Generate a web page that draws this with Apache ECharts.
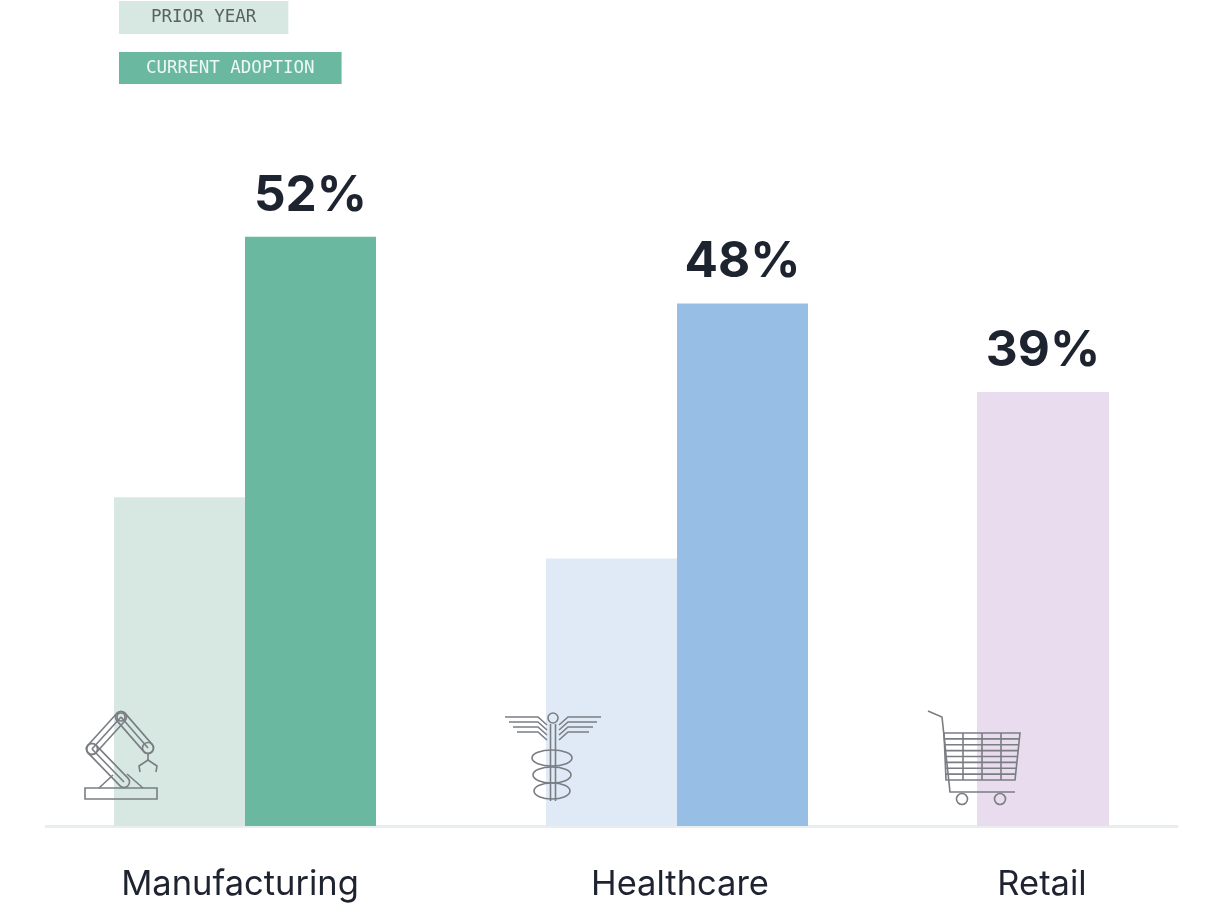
<!DOCTYPE html>
<html>
<head>
<meta charset="utf-8">
<title>Adoption by industry</title>
<script src="https://cdn.jsdelivr.net/npm/echarts@6/dist/echarts.min.js"></script>
<style>
  html, body { margin: 0; padding: 0; background: #fff; }
  #chart { width: 1221px; height: 908px; }
</style>
</head>
<body>
<div id="chart"></div>
<script>
// data
var categories = ['Manufacturing', 'Healthcare', 'Retail'];
var priorYear = [29.0, 23.6, null];
var currentAdoption = [52.0, 46.1, 38.3];
var currentLabels = ['52%', '48%', '39%'];
var priorColors = ['#d7e8e2', '#e0eaf7', '#ece3f1'];
var currentColors = ['#6bb8a0', '#97bfe5', '#e8dcee'];

// one small grid per industry, they are not evenly spaced
var gridLeft = [114, 546, 977];
var gridWidth = [262, 262, 132];
var labelPad = [[0, 10, 0, 0], [0, 0, 0, 6], [0, 2, 0, 0]];
var gridTop = 146, gridBottom = 82;

var ink = '#1e2330';
var iconInk = '#7a7d82';

var grids = [], xAxes = [], yAxes = [], series = [];

categories.forEach(function (cat, i) {
    grids.push({left: gridLeft[i], width: gridWidth[i], top: gridTop, bottom: gridBottom, z: 2});
    xAxes.push({
        type: 'category',
        gridIndex: i,
        data: [cat],
        axisLine: {show: false},
        axisTick: {show: false},
        axisLabel: {
            margin: 41,
            padding: labelPad[i],
            fontSize: 34.5,
            color: ink,
            fontFamily: 'Inter, "Noto Sans", sans-serif'
        }
    });
    yAxes.push({type: 'value', gridIndex: i, min: 0, max: 60, show: false});

    if (priorYear[i] != null) {
        series.push({
            name: 'PRIOR YEAR',
            type: 'bar',
            xAxisIndex: i,
            yAxisIndex: i,
            barGap: '0%',
            barCategoryGap: '0%',
            itemStyle: {color: priorColors[i]},
            data: [priorYear[i]]
        });
    }
    series.push({
        name: 'CURRENT ADOPTION',
        type: 'bar',
        xAxisIndex: i,
        yAxisIndex: i,
        barGap: '0%',
        barCategoryGap: '0%',
        itemStyle: {color: currentColors[i]},
        label: {
            show: true,
            position: 'top',
            distance: 16,
            formatter: function () { return currentLabels[i]; },
            fontSize: 49.5,
            fontWeight: 'bold',
            color: ink,
            fontFamily: 'Inter, "Noto Sans", sans-serif'
        },
        data: [currentAdoption[i]]
    });
});

// long baseline under everything
grids.push({left: 46, right: 44, top: gridTop, bottom: gridBottom, z: 0});
xAxes.push({
    type: 'category',
    gridIndex: 3,
    data: [''],
    axisLine: {lineStyle: {color: '#e8eded', width: 3}},
    axisTick: {show: false},
    axisLabel: {show: false}
});
yAxes.push({type: 'value', gridIndex: 3, show: false});

// icon helpers
function ln(pts) {
    return {type: 'polyline', z: 100, shape: {points: pts},
        style: {fill: null, stroke: iconInk, lineWidth: 1.6}};
}
function circ(cx, cy, r) {
    return {type: 'circle', z: 100, shape: {cx: cx, cy: cy, r: r},
        style: {fill: null, stroke: iconInk, lineWidth: 1.6}};
}
function ell(cx, cy, rx, ry) {
    return {type: 'ellipse', z: 100, shape: {cx: cx, cy: cy, rx: rx, ry: ry},
        style: {fill: null, stroke: iconInk, lineWidth: 1.6}};
}
function capsule(a, b, t) {
    var dx = b[0] - a[0], dy = b[1] - a[1];
    var len = Math.sqrt(dx * dx + dy * dy);
    return {type: 'rect', z: 100,
        x: (a[0] + b[0]) / 2, y: (a[1] + b[1]) / 2,
        rotation: -Math.atan2(dy, dx),
        shape: {x: -len / 2 - t / 2, y: -t / 2, width: len + t, height: t, r: t / 2},
        style: {fill: null, stroke: iconInk, lineWidth: 1.6}};
}

var icons = [];

// robot arm
var armBase = [124, 782], armElbow = [92, 749], armShoulder = [121, 717], armWrist = [148, 748];
icons.push({type: 'rect', z: 100, shape: {x: 85, y: 788, width: 72, height: 11},
    style: {fill: null, stroke: iconInk, lineWidth: 1.6}});
icons.push(ln([[99, 788], [113, 775]]));
icons.push(ln([[127, 774], [143, 788]]));
icons.push(capsule(armBase, armElbow, 11));
icons.push(capsule(armElbow, armShoulder, 11));
icons.push(capsule(armShoulder, armWrist, 11));
icons.push(ln([armBase, armElbow]), ln([armElbow, armShoulder]), ln([armShoulder, armWrist]));
icons.push(circ(armElbow[0], armElbow[1], 5.5), circ(armShoulder[0], armShoulder[1], 4), circ(armWrist[0], armWrist[1], 5.5));
icons.push(ln([[148, 754], [148, 760]]));
icons.push(ln([[140, 772], [139, 766], [148, 760], [157, 766], [156, 772]]));

// caduceus
icons.push(circ(553, 718, 5));
icons.push(ln([[550.5, 724], [550.5, 801]]), ln([[555.5, 724], [555.5, 801]]));
[0, 1, 2, 3].forEach(function (k) {
    var y = 717 + k * 5, xs = 505 + k * 4;
    icons.push(ln([[xs, y], [538, y], [547, y + 8]]));
    icons.push(ln([[1106 - xs, y], [568, y], [559, y + 8]]));
});
icons.push(ell(552, 758, 20, 8), ell(552, 775, 19, 8), ell(552, 791, 18, 8));

// shopping cart
icons.push(ln([[928, 711], [942, 717], [950, 792], [1015, 792]]));
icons.push({type: 'polygon', z: 100,
    shape: {points: [[944, 733], [1020, 733], [1015, 780], [946, 780]]},
    style: {fill: null, stroke: iconInk, lineWidth: 1.6}});
for (var k = 1; k < 8; k++) {
    var yy = 733 + k * 47 / 8;
    icons.push(ln([[944 + 2 * k / 8, yy], [1020 - 5 * k / 8, yy]]));
}
[963, 982, 1001].forEach(function (x) { icons.push(ln([[x, 733], [x, 780]])); });
icons.push(circ(962, 799, 5.5), circ(1000, 799, 5.5));

var chart = echarts.init(document.getElementById('chart'));
chart.setOption({
    backgroundColor: '#fff',
    animation: false,
    legend: {
        orient: 'vertical',
        left: 114,
        top: 1,
        padding: 0,
        itemGap: 18,
        itemWidth: 0,
        itemHeight: 0,
        icon: 'rect',
        textStyle: {fontFamily: '"DejaVu Sans Mono", monospace', fontSize: 17.5},
        data: [
            {name: 'PRIOR YEAR', textStyle: {color: '#56635f', backgroundColor: '#d7e8e2', padding: [9, 32, 6, 32]}},
            {name: 'CURRENT ADOPTION', textStyle: {color: '#eef7f3', backgroundColor: '#6bb8a0', padding: [8, 27, 6, 27]}}
        ]
    },
    grid: grids,
    xAxis: xAxes,
    yAxis: yAxes,
    series: series,
    graphic: icons
});
</script>
</body>
</html>
